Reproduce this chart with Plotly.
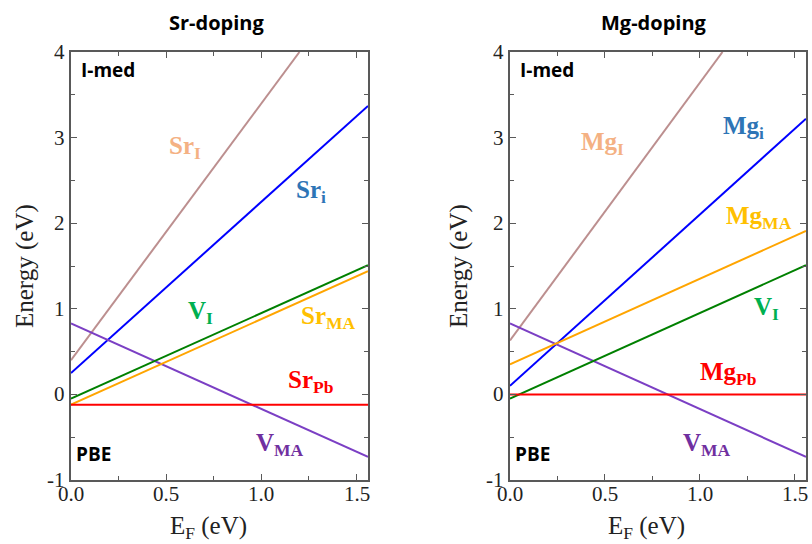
import plotly.graph_objects as go

# ---- formation-energy lines: Fermi-level endpoints (eV) and energies (eV) ----
ef_full = [0.0, 1.56]

# Sr-doping panel
sr_I_ef = [0.0, 1.20]
sr_I_e = [0.40, 4.00]
sr_i_e = [0.25, 3.37]
sr_vI_e = [-0.05, 1.51]
sr_MA_e = [-0.12, 1.44]
sr_Pb_e = [-0.12, -0.12]
sr_vMA_e = [0.83, -0.73]

# Mg-doping panel
mg_I_ef = [0.0, 1.12]
mg_I_e = [0.63, 4.00]
mg_i_e = [0.10, 3.22]
mg_MA_e = [0.35, 1.91]
mg_vI_e = [-0.05, 1.51]
mg_Pb_e = [0.0, 0.0]
mg_vMA_e = [0.83, -0.73]

x_ticks = [0.0, 0.5, 1.0, 1.5]
x_tick_text = ["0.0", "0.5", "1.0", "1.5"]
y_ticks = [-1, 0, 1, 2, 3, 4]
y_tick_text = ["-1", "0", "1", "2", "3", "4"]

# line colours / label colours
C_I, T_I = "#BC8F8F", "#F4B183"
C_i, T_i = "#0000FF", "#2E75B6"
C_VI, T_VI = "#008000", "#00B050"
C_MA, T_MA = "#FFA500", "#FFC000"
C_Pb, T_Pb = "#FF0000", "#FF0000"
C_VMA, T_VMA = "#7B3FC4", "#7030A0"

W, H = 812, 544
SERIF = "Liberation Serif"
SANS = "Open Sans"
TXT = "#222222"

fig = go.Figure()


def add_line(x, y, color, xa, ya):
    fig.add_trace(go.Scatter(x=x, y=y, mode="lines", xaxis=xa, yaxis=ya,
                             line=dict(color=color, width=2),
                             hoverinfo="skip", showlegend=False))


# Sr panel
add_line(sr_I_ef, sr_I_e, C_I, "x", "y")
add_line(ef_full, sr_i_e, C_i, "x", "y")
add_line(ef_full, sr_vMA_e, C_VMA, "x", "y")
add_line(ef_full, sr_vI_e, C_VI, "x", "y")
add_line(ef_full, sr_MA_e, C_MA, "x", "y")
add_line(ef_full, sr_Pb_e, C_Pb, "x", "y")

# Mg panel
add_line(mg_I_ef, mg_I_e, C_I, "x2", "y2")
add_line(ef_full, mg_i_e, C_i, "x2", "y2")
add_line(ef_full, mg_vMA_e, C_VMA, "x2", "y2")
add_line(ef_full, mg_vI_e, C_VI, "x2", "y2")
add_line(ef_full, mg_MA_e, C_MA, "x2", "y2")
add_line(ef_full, mg_Pb_e, C_Pb, "x2", "y2")

frame = "#595959"


def xaxis(domain, anchor):
    return dict(domain=domain, anchor=anchor, range=[0, 1.56], automargin=False,
                tickmode="array", tickvals=x_ticks, showticklabels=False,
                ticks="inside", ticklen=6, tickwidth=1, tickcolor=frame,
                minor=dict(dtick=0.25, tick0=0, ticks="inside", ticklen=4,
                           tickcolor=frame, showgrid=False),
                showline=True, linecolor=frame, linewidth=1.5, mirror="ticks",
                showgrid=False, zeroline=False)


def yaxis(domain, anchor):
    return dict(domain=domain, anchor=anchor, range=[-1, 4], automargin=False,
                tickmode="array", tickvals=y_ticks, showticklabels=False,
                ticks="inside", ticklen=6, tickwidth=1, tickcolor=frame,
                minor=dict(dtick=0.5, tick0=0, ticks="inside", ticklen=4,
                           tickcolor=frame, showgrid=False),
                showline=True, linecolor=frame, linewidth=1.5, mirror="ticks",
                showgrid=False, zeroline=False)


X1 = [71 / W, 368 / W]
X2 = [510 / W, 806 / W]
ydom = [1 - 480 / H, 1 - 52 / H]
fig.update_layout(
    width=W, height=H,
    margin=dict(l=0, r=0, t=0, b=0),
    paper_bgcolor="white", plot_bgcolor="white",
    showlegend=False,
    xaxis=xaxis(X1, "y"),
    yaxis=yaxis(ydom, "x"),
    xaxis2=xaxis(X2, "y2"),
    yaxis2=yaxis(ydom, "x2"),
)

ann = []

# serif tick labels, placed on the axes' own scales
for xa, ya, left in (("x", "y", X1[0]), ("x2", "y2", X2[0])):
    for v, t in zip(x_ticks, x_tick_text):
        ann.append(dict(text=t, x=v, y=ydom[0], xref=xa, yref="paper", yshift=-14,
                        showarrow=False, borderpad=0,
                        font=dict(family=SERIF, size=21, color=TXT),
                        xanchor="center", yanchor="middle"))
    for v, t in zip(y_ticks, y_tick_text):
        ann.append(dict(text=t, x=left, y=v, xref="paper", yref=ya, xshift=-5,
                        showarrow=False, borderpad=0,
                        font=dict(family=SERIF, size=21, color=TXT),
                        xanchor="right", yanchor="middle"))


def label(text, x, y, color, xa, ya, size=25):
    ann.append(dict(text="<b>" + text + "</b>", x=x, y=y, xref=xa, yref=ya,
                    showarrow=False, font=dict(family=SERIF, size=size, color=color),
                    xanchor="center", yanchor="middle"))


# Sr labels
label("Sr<sub>I</sub>", 0.60, 2.89, T_I, "x", "y")
label("Sr<sub>i</sub>", 1.26, 2.37, T_i, "x", "y")
label("V<sub>I</sub>", 0.68, 0.96, T_VI, "x", "y")
label("Sr<sub>MA</sub>", 1.35, 0.90, T_MA, "x", "y")
label("Sr<sub>Pb</sub>", 1.26, 0.15, T_Pb, "x", "y")
label("V<sub>MA</sub>", 1.10, -0.59, T_VMA, "x", "y")

# Mg labels
label("Mg<sub>I</sub>", 0.49, 2.93, T_I, "x2", "y2")
label("Mg<sub>i</sub>", 1.23, 3.12, T_i, "x2", "y2")
label("Mg<sub>MA</sub>", 1.31, 2.07, T_MA, "x2", "y2")
label("V<sub>I</sub>", 1.35, 1.00, T_VI, "x2", "y2")
label("Mg<sub>Pb</sub>", 1.15, 0.24, T_Pb, "x2", "y2")
label("V<sub>MA</sub>", 1.04, -0.59, T_VMA, "x2", "y2")


def sans(text, x, y, xa, ya, size=19, xanchor="left"):
    ann.append(dict(text="<b>" + text + "</b>", x=x, y=y, xref=xa, yref=ya,
                    showarrow=False, font=dict(family=SANS, size=size, color="black"),
                    xanchor=xanchor, yanchor="middle"))


sans("I-med", 0.04, 3.79, "x", "y")
sans("PBE", 0.015, -0.70, "x", "y")
sans("I-med", 0.04, 3.79, "x2", "y2")
sans("PBE", 0.015, -0.70, "x2", "y2")

# panel titles
sans("Sr-doping", 217 / W, 1 - 23 / H, "paper", "paper", size=20, xanchor="center")
sans("Mg-doping", 654 / W, 1 - 23 / H, "paper", "paper", size=20, xanchor="center")

# axis titles
for xc in (25, 459):
    ann.append(dict(text="Energy (eV)", x=xc / W, y=1 - 266 / H, xref="paper", yref="paper",
                    showarrow=False, textangle=-90,
                    font=dict(family=SERIF, size=25, color=TXT),
                    xanchor="center", yanchor="middle"))
for xc in (208, 646):
    ann.append(dict(text="E<sub>F</sub> (eV)", x=xc / W, y=1 - 527 / H, xref="paper", yref="paper",
                    showarrow=False,
                    font=dict(family=SERIF, size=25, color=TXT),
                    xanchor="center", yanchor="middle"))

fig.update_layout(annotations=ann)
fig.write_html("out.html")
